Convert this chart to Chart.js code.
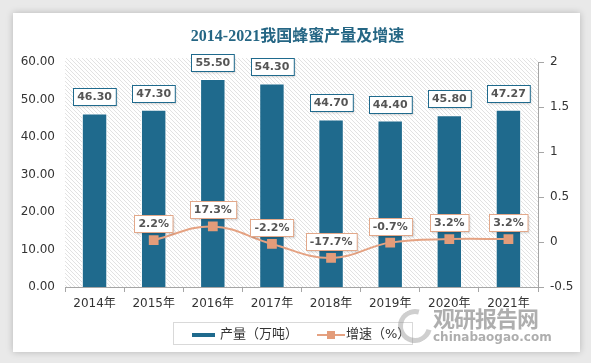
<!DOCTYPE html>
<html>
<head>
<meta charset="utf-8">
<script src="https://cdn.jsdelivr.net/npm/chart.js@4.4.1/dist/chart.umd.min.js"></script>
<style>
    html, body { margin: 0; padding: 0; }
    body { width: 591px; height: 363px; background: #e9e9e9; position: relative; overflow: hidden; }
    #card { position: absolute; left: 13px; top: 13px; width: 567px; height: 339px; background: #fff; box-shadow: 0 0 7px rgba(0, 0, 0, 0.22); }
    #chart { position: absolute; left: 0; top: 0; z-index: 1; }
    #title { position: absolute; left: 0; width: 595px; top: 22px; text-align: center; font: bold 16px "Liberation Serif", "Noto Sans CJK SC", serif; color: #256684; z-index: 2; }
    #legend { position: absolute; left: 173px; top: 322px; width: 238px; height: 21px; border: 1px solid #d9d9d9; font: 13px "DejaVu Sans", "Noto Sans CJK SC", sans-serif; color: #333; z-index: 2; }
    #legend .it { position: absolute; top: 2px; line-height: 17px; }
    #legend .sw { display: inline-block; vertical-align: middle; }
    #wm { position: absolute; left: 433px; top: 305px; color: rgba(120, 120, 120, 0.6); font-family: "Noto Sans CJK SC", sans-serif; z-index: 3; }
    #wm .cn { font-size: 22px; font-weight: bold; line-height: 25px; letter-spacing: -1px; }
    #wm .en { font: bold 12px "DejaVu Sans", sans-serif; line-height: 14px; }
    #logo { position: absolute; left: 398px; top: 309px; width: 24px; height: 24px; border: 5px solid rgba(150, 150, 150, 0.45); border-right-color: transparent; border-radius: 50%; z-index: 3; transform: rotate(-30deg); }
</style>
</head>
<body>
<div id="card"></div>
<canvas id="chart" width="591" height="363"></canvas>
<div id="title">2014-2021我国蜂蜜产量及增速</div>
<div id="legend">
    <div class="it" style="left:18px;"><span class="sw" style="width:23px;height:4px;background:#1f6a8d;margin-right:5px;"></span>产量（万吨）</div>
    <div class="it" style="left:143px;"><span class="sw" style="position:relative;width:28px;height:2px;background:#e5a282;margin-right:1px;"><span style="position:absolute;left:10px;top:-3px;width:8px;height:8px;background:#e39c7a;"></span></span>增速（%）</div>
</div>
<div id="logo"></div>
<div id="wm"><div class="cn">观研报告网</div><div class="en">chinabaogao.com</div></div>
<script>
var years = ['2014年', '2015年', '2016年', '2017年', '2018年', '2019年', '2020年', '2021年'];
var output = [46.30, 47.30, 55.50, 54.30, 44.70, 44.40, 45.80, 47.27];
var growth = [null, 0.022, 0.173, -0.022, -0.177, -0.007, 0.032, 0.032];
var leftTicks = [0, 10, 20, 30, 40, 50, 60];
var rightTicks = [-0.5, 0, 0.5, 1, 1.5, 2];

(function () {
    var BAR = '#1f6a8d';
    var LINE = '#e5a282';
    var MARK = '#e39c7a';
    var TICK_FONT = { size: 12, family: '"DejaVu Sans", "Noto Sans CJK SC", sans-serif' };

    function hatch() {
        var c = document.createElement('canvas');
        c.width = 4;
        c.height = 4;
        var g = c.getContext('2d');
        g.fillStyle = '#ffffff';
        g.fillRect(0, 0, 4, 4);
        g.strokeStyle = '#e2e2e2';
        g.lineWidth = 1;
        g.beginPath();
        g.moveTo(-1, -1);
        g.lineTo(5, 5);
        g.moveTo(-1, 3);
        g.lineTo(1, 5);
        g.moveTo(3, -1);
        g.lineTo(5, 1);
        g.stroke();
        return c;
    }

    var background = {
        id: 'hatchBg',
        beforeDatasetsDraw: function (chart) {
            var a = chart.chartArea;
            var ctx = chart.ctx;
            ctx.save();
            ctx.fillStyle = ctx.createPattern(hatch(), 'repeat');
            ctx.fillRect(a.left, a.top - 4, a.right - a.left, a.bottom - a.top + 4);
            ctx.restore();
        },
    };

    function box(ctx, text, cx, bottom, border) {
        ctx.font = 'bold 11px "DejaVu Sans", sans-serif';
        var w = ctx.measureText(text).width + 8;
        var h = 17;
        var x = Math.round(cx - w / 2) + 0.5;
        var y = Math.round(bottom - h) + 0.5;
        ctx.save();
        ctx.shadowColor = 'rgba(0,0,0,0.18)';
        ctx.shadowBlur = 2;
        ctx.shadowOffsetX = 1;
        ctx.shadowOffsetY = 1;
        ctx.fillStyle = '#fff';
        ctx.fillRect(x, y, w, h);
        ctx.restore();
        ctx.strokeStyle = border;
        ctx.lineWidth = 1;
        ctx.strokeRect(x, y, w, h);
        ctx.fillStyle = '#555';
        ctx.textAlign = 'center';
        ctx.textBaseline = 'middle';
        ctx.fillText(text, cx, y + h / 2 + 0.5);
    }

    var labels = {
        id: 'boxLabels',
        afterDatasetsDraw: function (chart) {
            var ctx = chart.ctx;
            ctx.save();
            chart.getDatasetMeta(0).data.forEach(function (el, i) {
                box(ctx, output[i].toFixed(2), el.x, el.y - 8, BAR);
            });
            chart.getDatasetMeta(1).data.forEach(function (el, i) {
                if (growth[i] == null) {
                    return;
                }
                box(ctx, (growth[i] * 100).toFixed(1) + '%', el.x, el.y - 8, '#e2a88a');
            });
            ctx.restore();
        },
    };

    new Chart(document.getElementById('chart').getContext('2d'), {
        type: 'bar',
        data: {
            labels: years,
            datasets: [
                {
                    label: '产量（万吨）',
                    data: output,
                    backgroundColor: BAR,
                    borderColor: '#ffffff',
                    borderWidth: 1,
                    yAxisID: 'y',
                    barPercentage: 0.43,
                    categoryPercentage: 1,
                    order: 1,
                },
                {
                    type: 'line',
                    label: '增速（%）',
                    data: growth,
                    borderColor: LINE,
                    borderWidth: 2,
                    backgroundColor: MARK,
                    pointBackgroundColor: MARK,
                    pointBorderColor: MARK,
                    pointStyle: 'rect',
                    pointRadius: 5.5,
                    tension: 0.4,
                    spanGaps: false,
                    yAxisID: 'y1',
                    order: 0,
                },
            ],
        },
        options: {
            responsive: false,
            animation: false,
            layout: { padding: { top: 62, bottom: 46, left: 0, right: 0 } },
            plugins: {
                legend: { display: false },
                tooltip: { enabled: false },
            },
            scales: {
                x: {
                    afterFit: function (s) { s.height = 30; },
                    grid: { display: true, drawOnChartArea: false, drawTicks: true, tickLength: 5, color: '#a6a6a6', offset: true },
                    border: { display: true, color: '#a6a6a6' },
                    ticks: { font: TICK_FONT, color: '#333', padding: 5 },
                },
                y: {
                    position: 'left',
                    min: 0,
                    max: 60,
                    afterFit: function (s) { s.width = 65; },
                    afterBuildTicks: function (s) { s.ticks = leftTicks.map(function (v) { return { value: v }; }); },
                    grid: { display: false, drawTicks: false },
                    border: { display: false },
                    ticks: {
                        font: TICK_FONT,
                        color: '#333',
                        padding: 10,
                        callback: function (v) { return Number(v).toFixed(2); },
                    },
                },
                y1: {
                    position: 'right',
                    min: -0.5,
                    max: 2,
                    afterFit: function (s) { s.width = 53; },
                    afterBuildTicks: function (s) { s.ticks = rightTicks.map(function (v) { return { value: v }; }); },
                    grid: { display: true, drawOnChartArea: false, drawTicks: true, tickLength: 6, color: '#a6a6a6' },
                    border: { display: true, color: '#a6a6a6' },
                    ticks: {
                        font: TICK_FONT,
                        color: '#333',
                        padding: 6,
                        callback: function (v) { return String(v); },
                    },
                },
            },
        },
        plugins: [background, labels],
    });
})();
</script>
</body>
</html>
